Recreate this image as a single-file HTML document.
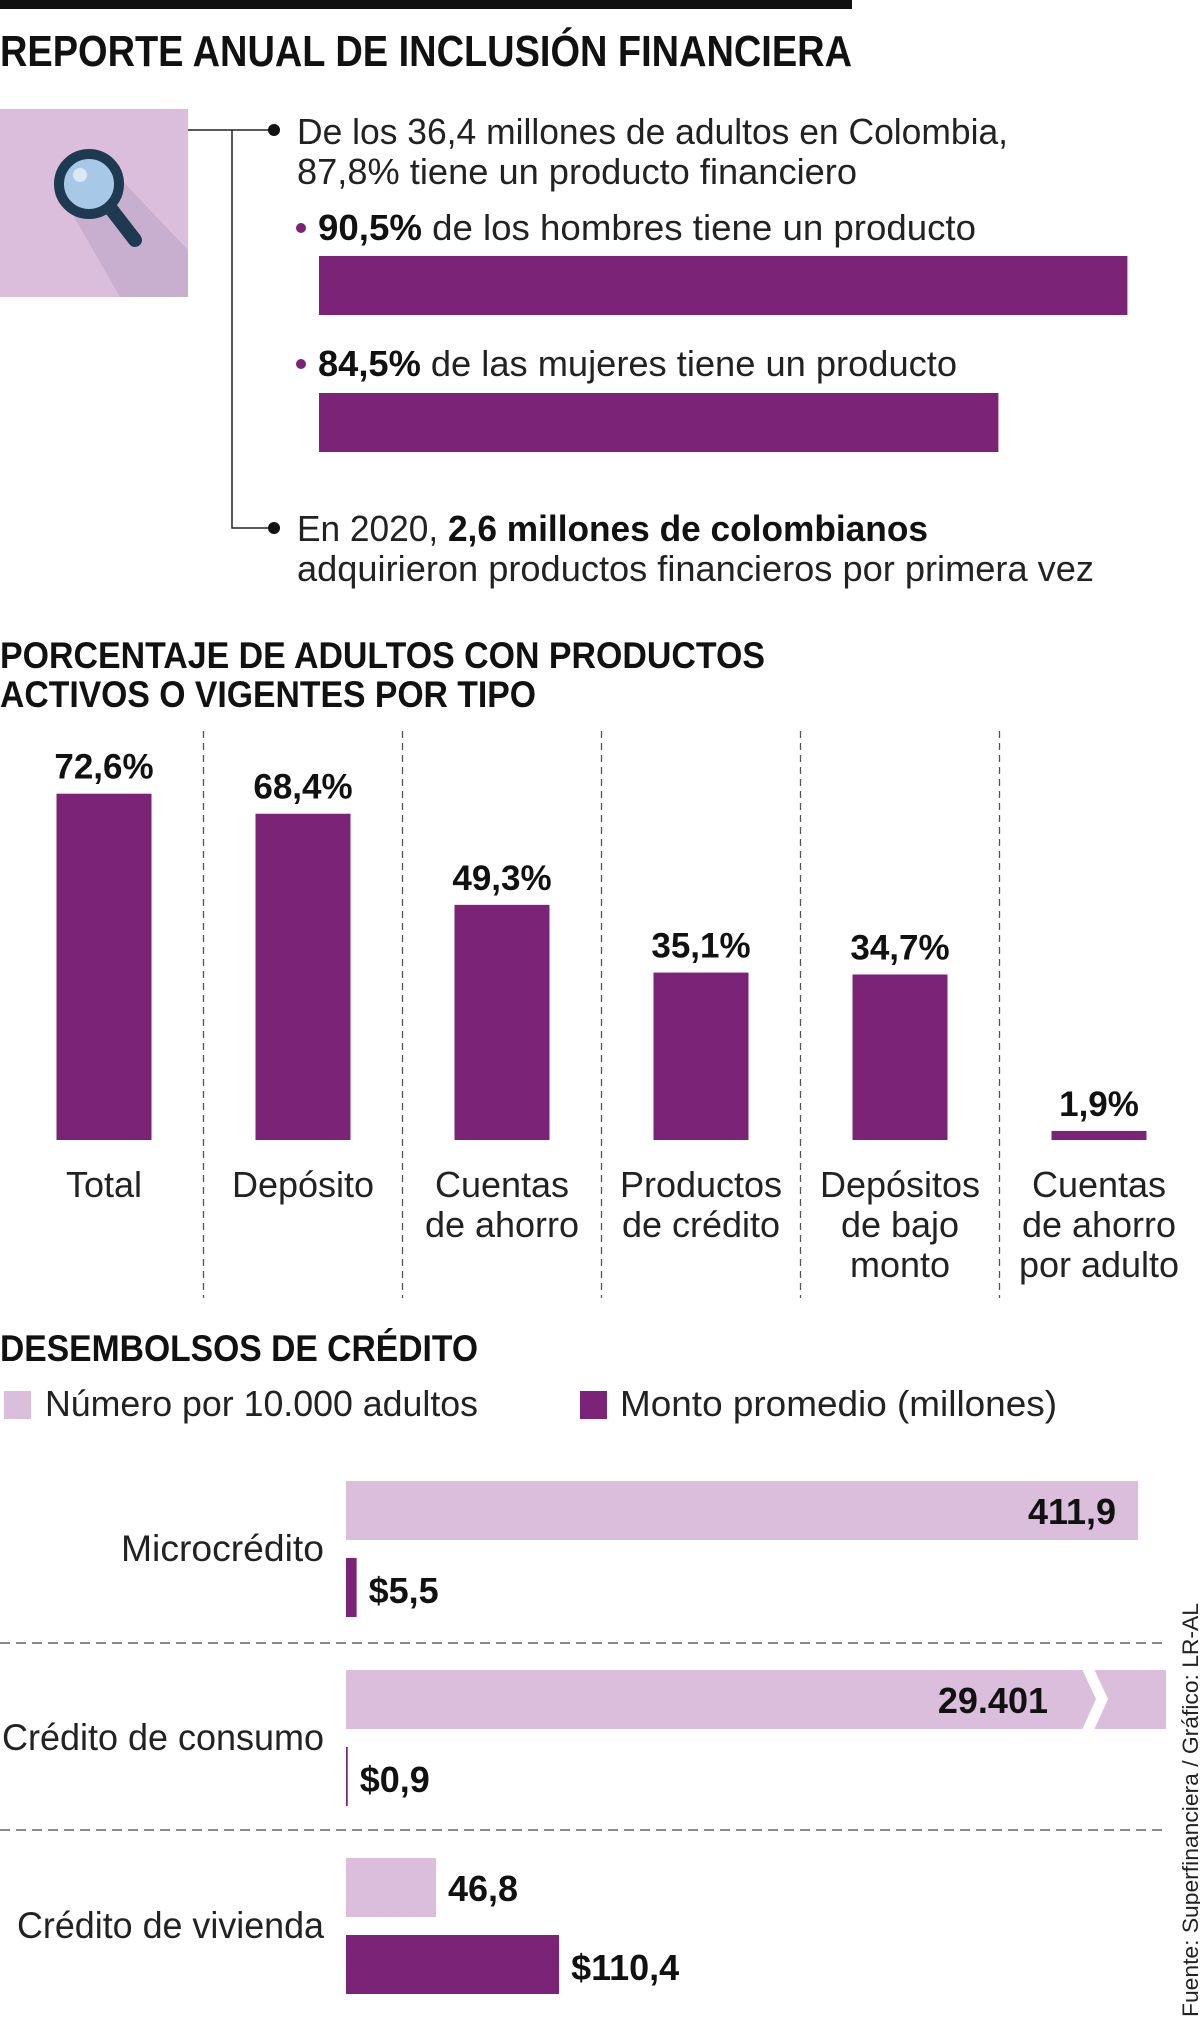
<!DOCTYPE html>
<html><head><meta charset="utf-8"><style>
html,body{margin:0;padding:0;background:#fff;}
svg{display:block;font-family:"Liberation Sans Narrow","Liberation Sans",sans-serif;}
.b{font-weight:bold;}
</style></head><body>
<svg id="g" width="1200" height="2019" viewBox="0 0 1200 2019" xmlns="http://www.w3.org/2000/svg">
<rect x="0" y="0" width="852" height="9" fill="#111"/>
<text x="0" y="66" class="b" font-size="44" fill="#111" textLength="852" lengthAdjust="spacingAndGlyphs">REPORTE ANUAL DE INCLUSIÓN FINANCIERA</text>

<g>
<rect x="0" y="109" width="188" height="188" fill="#dbbedb"/>
<polygon points="70,210 112,170 188,250 188,297 120,297" fill="#c9afcf"/>
<line x1="108" y1="205" x2="135" y2="240" stroke="#1d3a52" stroke-width="14" stroke-linecap="round"/>
<circle cx="89" cy="184" r="30" fill="#a8c8e8" stroke="#1d3a52" stroke-width="10"/>
<circle cx="80" cy="175" r="7" fill="#dbe9f6"/>
</g>

<g stroke="#222" stroke-width="1.5" fill="none">
<polyline points="188,130 273,130"/>
<polyline points="232,130 232,528 273,528"/>
</g>
<circle cx="274" cy="130" r="6" fill="#111"/>
<circle cx="274" cy="528" r="6" fill="#111"/>

<text x="297" y="144" font-size="36" fill="#222" textLength="711" lengthAdjust="spacingAndGlyphs">De los 36,4 millones de adultos en Colombia,</text>
<text x="297" y="184" font-size="36" fill="#222" textLength="560" lengthAdjust="spacingAndGlyphs">87,8% tiene un producto financiero</text>

<circle cx="301" cy="228" r="5" fill="#7b2376"/>
<text x="318" y="240" font-size="36" fill="#222" textLength="658" lengthAdjust="spacingAndGlyphs"><tspan class="b" fill="#111">90,5%</tspan> de los hombres tiene un producto</text>
<circle cx="301" cy="364" r="5" fill="#7b2376"/>
<text x="318" y="376" font-size="36" fill="#222" textLength="639" lengthAdjust="spacingAndGlyphs"><tspan class="b" fill="#111">84,5%</tspan> de las mujeres tiene un producto</text>
<g id="gender"></g>

<text x="297" y="541" font-size="36" fill="#222" textLength="631" lengthAdjust="spacingAndGlyphs">En 2020, <tspan class="b" fill="#111">2,6 millones de colombianos</tspan></text>
<text x="297" y="581" font-size="36" fill="#222" textLength="797" lengthAdjust="spacingAndGlyphs">adquirieron productos financieros por primera vez</text>

<text x="0" y="668" class="b" font-size="37" fill="#111" textLength="765" lengthAdjust="spacingAndGlyphs">PORCENTAJE DE ADULTOS CON PRODUCTOS</text>
<text x="0" y="707" class="b" font-size="37" fill="#111" textLength="536" lengthAdjust="spacingAndGlyphs">ACTIVOS O VIGENTES POR TIPO</text>
<g id="cols"></g>

<text x="0" y="1361" class="b" font-size="37" fill="#111" textLength="478" lengthAdjust="spacingAndGlyphs">DESEMBOLSOS DE CRÉDITO</text>
<rect x="4" y="1391" width="27" height="28" fill="#dbbedb"/>
<text x="45" y="1416" font-size="36" fill="#222" textLength="433" lengthAdjust="spacingAndGlyphs">Número por 10.000 adultos</text>
<rect x="580" y="1391" width="27" height="28" fill="#7b2376"/>
<text x="620" y="1416" font-size="36" fill="#222" textLength="437" lengthAdjust="spacingAndGlyphs">Monto promedio (millones)</text>
<g id="credit"></g>

<text transform="translate(1198,2017) rotate(-90)" font-family="Liberation Sans, sans-serif" font-size="22" fill="#222" textLength="414" lengthAdjust="spacingAndGlyphs">Fuente: Superfinanciera / Gráfico: LR-AL</text>
</svg>
<script>
const NS='http://www.w3.org/2000/svg';
const genderValues=[90.5,84.5];
const colCategories=[['Total'],['Depósito'],['Cuentas','de ahorro'],['Productos','de crédito'],['Depósitos','de bajo','monto'],['Cuentas','de ahorro','por adulto']];
const colValues=[72.6,68.4,49.3,35.1,34.7,1.9];
const colLabels=['72,6%','68,4%','49,3%','35,1%','34,7%','1,9%'];
const creditCategories=['Microcrédito','Crédito de consumo','Crédito de vivienda'];
const creditNumber=[411.9,29401,46.8];
const creditNumberLabels=['411,9','29.401','46,8'];
const creditAmount=[5.5,0.9,110.4];
const creditAmountLabels=['$5,5','$0,9','$110,4'];
function mk(t,a,p){const e=document.createElementNS(NS,t);for(const k in a)e.setAttribute(k,a[k]);p.appendChild(e);return e;}
const P='#7b2376',L='#dbbedb';
const gX=v=>(v-52.9)*21.5;
const gY=[256,393];
const gg=document.getElementById('gender');
genderValues.forEach((v,i)=>{const r=mk('rect',{x:319,y:gY[i],width:gX(v),height:59,fill:P},gg);

});
const cg=document.getElementById('cols');
const base=1140,ppu=4.77,colW=199,bw=95;
const cx=i=>104+i*colW;
const cy=v=>base-v*ppu;
for(let i=1;i<6;i++){const l=mk('line',{x1:cx(i)-colW/2,x2:cx(i)-colW/2,y1:731,y2:1298,stroke:'#555','stroke-width':1.3,'stroke-dasharray':'7,5'},cg);

}
colValues.forEach((v,i)=>{
const r=mk('rect',{x:cx(i)-bw/2,y:cy(v),width:bw,height:v*ppu,fill:P},cg);


const t=mk('text',{x:cx(i),y:cy(v)-15,'text-anchor':'middle','font-size':35,'font-weight':'bold',fill:'#111'},cg);t.textContent=colLabels[i];


colCategories[i].forEach((s,j)=>{const c=mk('text',{x:cx(i),y:1197+j*40,'text-anchor':'middle','font-size':36,fill:'#222'},cg);c.textContent=s;

});
});
const kg=document.getElementById('credit');
const x0=346,nK=1.923,aK=1.93,maxW=820;
const rowTop=[1481,1670,1858];
const labW=[203,322,307];
[1643,1830].forEach(y=>{const l=mk('line',{x1:0,x2:1166,y1:y,y2:y,stroke:'#444','stroke-width':1.3,'stroke-dasharray':'10,6'},kg);

});
creditCategories.forEach((c,i)=>{
const y=rowTop[i];
const lab=mk('text',{x:324,y:y+80,'text-anchor':'end','font-size':37,fill:'#222',textLength:labW[i],lengthAdjust:'spacingAndGlyphs'},kg);lab.textContent=c;


let w=creditNumber[i]*nK;const broken=w>maxW;if(broken)w=maxW;
const r=mk('rect',{x:x0,y:y,width:w,height:59,fill:L},kg);


if(broken){const bx=x0+w-84;
const z=mk('polygon',{points:`${bx},${y-1} ${bx+12},${y-1} ${bx+26},${y+29} ${bx+12},${y+60} ${bx},${y+60} ${bx+14},${y+29}`,fill:'#fff'},kg);

}
const inside=w>200;
const nt=mk('text',{x:inside?(broken?x0+w-118:x0+w-22):x0+w+12,y:y+43,'text-anchor':inside?'end':'start','font-size':36,'font-weight':'bold',fill:'#111'},kg);nt.textContent=creditNumberLabels[i];


const aw=Math.max(creditAmount[i]*aK,1.5);
const ay=y+77;
const r2=mk('rect',{x:x0,y:ay,width:aw,height:59,fill:P},kg);


const at=mk('text',{x:x0+aw+12,y:ay+45,'font-size':36,'font-weight':'bold',fill:'#111'},kg);at.textContent=creditAmountLabels[i];


});
</script>
</body></html>
